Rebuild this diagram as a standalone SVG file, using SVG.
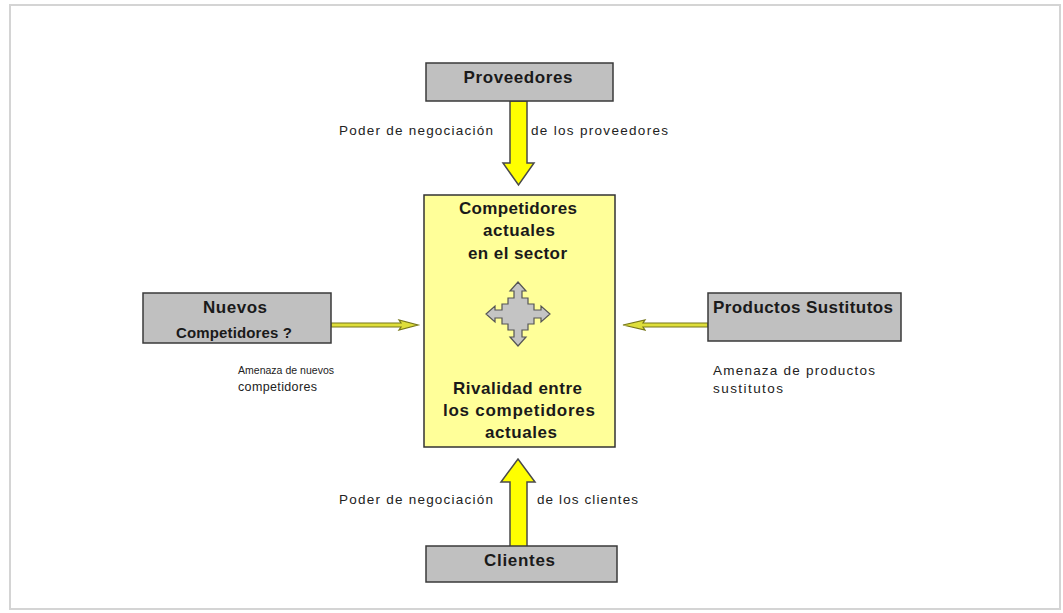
<svg xmlns="http://www.w3.org/2000/svg" width="1063" height="613" viewBox="0 0 1063 613">
<style>
.gbox{fill:#c0c0c0;stroke:#3a3a3a;stroke-width:1.5}
.ybox{fill:#ffff99;stroke:#333;stroke-width:1.5}
.big{fill:#ffff00;stroke:#4a4a4a;stroke-width:1.5}
.small{fill:#dede3a;stroke:#77771a;stroke-width:1.2}
.b{font-family:"Liberation Sans",Arial,sans-serif;font-weight:bold;font-size:17px;fill:#1a1a1a;text-anchor:middle}
.s{font-family:"Liberation Sans",Arial,sans-serif;font-size:13.5px;fill:#222}
.sm{font-size:10.5px}
.sm2{font-size:12.5px}
.bm{font-size:15px}
</style>
<rect x="0" y="0" width="1063" height="613" fill="#fff"/>
<rect x="10" y="5" width="1050" height="604" fill="#fff" stroke="#d4d4d4" stroke-width="2"/>
<g id="connectors">
<polygon class="big" points="510,101 527,101 527,163 534,163 518.5,185 503,163 510,163"/>
<polygon class="big" points="510,547 527,547 527,482 535,482 518,459 501,482 510,482"/>
<polygon class="small" points="331,323 401,323 399,320 418,325 399,330 401,327 331,327"/>
<polygon class="small" points="708,323 643,323 645,320 623,325 645,330 643,327 708,327"/>
<text class="s" x="339" y="135" textLength="154" lengthAdjust="spacing">Poder de negociación</text>
<text class="s" x="531" y="135" textLength="137" lengthAdjust="spacing">de los proveedores</text>
<text class="s" x="339" y="504" textLength="154" lengthAdjust="spacing">Poder de negociación</text>
<text class="s" x="537" y="504" textLength="101" lengthAdjust="spacing">de los clientes</text>
<text class="s sm" x="238" y="374" textLength="96" lengthAdjust="spacing">Amenaza de nuevos</text>
<text class="s sm2" x="238" y="391" textLength="79" lengthAdjust="spacing">competidores</text>
<text class="s" x="713" y="375" textLength="162" lengthAdjust="spacing">Amenaza de productos</text>
<text class="s" x="713" y="393" textLength="70" lengthAdjust="spacing">sustitutos</text>
</g>
<g id="proveedores">
<rect class="gbox" x="426" y="63" width="187" height="38"/>
<text class="b" x="518" y="83" textLength="109" lengthAdjust="spacing">Proveedores</text>
</g>
<g id="competidores">
<rect class="ybox" x="424" y="195" width="191" height="252"/>
<text class="b" x="518" y="214" textLength="118" lengthAdjust="spacing">Competidores</text>
<text class="b" x="519" y="236" textLength="72" lengthAdjust="spacing">actuales</text>
<text class="b" x="517.5" y="259" textLength="99" lengthAdjust="spacing">en el sector</text>
<polygon fill="#c4c4c4" stroke="#555" stroke-width="1.2" points="518,282 526,291 522,291 522,298 528,298 528,304 534,304 534,310 541,310 541,306 550,314 541,322 541,318 534,318 534,324 528,324 528,330 522,330 522,337 526,337 518,346 510,337 514,337 514,330 508,330 508,324 502,324 502,318 495,318 495,322 486,314 495,306 495,310 502,310 502,304 508,304 508,298 514,298 514,291 510,291"/>
<text class="b" x="517.5" y="394" textLength="129" lengthAdjust="spacing">Rivalidad entre</text>
<text class="b" x="519" y="416" textLength="152" lengthAdjust="spacing">los competidores</text>
<text class="b" x="521" y="438" textLength="72" lengthAdjust="spacing">actuales</text>
</g>
<g id="nuevos">
<rect class="gbox" x="143" y="293" width="188" height="50"/>
<text class="b" x="235" y="313" textLength="64" lengthAdjust="spacing">Nuevos</text>
<text class="b bm" x="234" y="338" textLength="116" lengthAdjust="spacing">Competidores ?</text>
</g>
<g id="sustitutos">
<rect class="gbox" x="708" y="293" width="193" height="48"/>
<text class="b" x="803" y="313" textLength="180" lengthAdjust="spacing">Productos Sustitutos</text>
</g>
<g id="clientes">
<rect class="gbox" x="426" y="546" width="191" height="36"/>
<text class="b" x="519.5" y="566" textLength="71" lengthAdjust="spacing">Clientes</text>
</g>
</svg>
